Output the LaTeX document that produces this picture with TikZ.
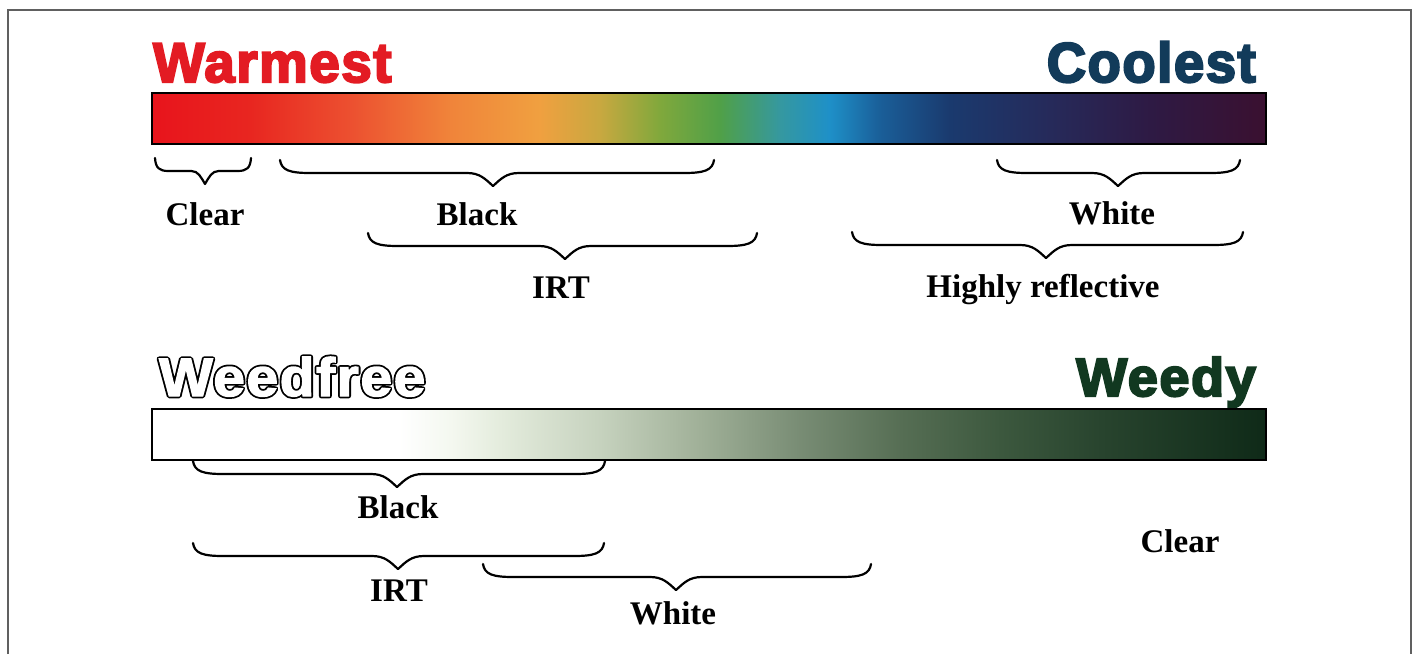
\documentclass[tikz,border=0pt]{standalone}
\usepackage{fontspec}
\setmainfont{Liberation Serif}
\newfontfamily\heavyfont{Liberation Sans Bold}[FakeBold=4, LetterSpace=3]
\newfontfamily\heavyinfont{Liberation Sans Bold}[FakeBold=2.5, LetterSpace=3]
\newfontfamily\heavyoutfont{Liberation Sans Bold}[FakeBold=9, LetterSpace=3]
\definecolor{warmred}{HTML}{E31B23}
\definecolor{coolnavy}{HTML}{123B5A}
\definecolor{weedygreen}{HTML}{113820}
\definecolor{framegray}{HTML}{606060}
% spectrum stops
\definecolor{s0}{HTML}{E8141C}
\definecolor{s1}{HTML}{E82620}
\definecolor{s2}{HTML}{EC5030}
\definecolor{s3}{HTML}{F0843A}
\definecolor{s4}{HTML}{F0A040}
\definecolor{s5}{HTML}{C8A840}
\definecolor{s6}{HTML}{80A83C}
\definecolor{s7}{HTML}{50A048}
\definecolor{s8}{HTML}{3598A0}
\definecolor{s9}{HTML}{1E90C8}
\definecolor{s10}{HTML}{1A5E98}
\definecolor{s11}{HTML}{1A3A6E}
\definecolor{s12}{HTML}{262A5A}
\definecolor{s13}{HTML}{2E1A44}
\definecolor{s14}{HTML}{3A1030}
\pgfdeclarehorizontalshading{spectrum}{100bp}{color(0bp)=(s0); color(25bp)=(s0); color(29.4bp)=(s1); color(33.9bp)=(s2); color(38.4bp)=(s3); color(42.4bp)=(s4); color(45.1bp)=(s5); color(47.8bp)=(s6); color(50.5bp)=(s7); color(53.2bp)=(s8); color(55.4bp)=(s9); color(57.7bp)=(s10); color(60.8bp)=(s11); color(65.3bp)=(s12); color(69.8bp)=(s13); color(75bp)=(s14); color(100bp)=(s14)}
% weed stops
\definecolor{w0}{HTML}{FFFFFF}
\definecolor{w1}{HTML}{F4F8F0}
\definecolor{w2}{HTML}{E4ECDD}
\definecolor{w3}{HTML}{C6D2BE}
\definecolor{w4}{HTML}{A0B098}
\definecolor{w5}{HTML}{788C74}
\definecolor{w6}{HTML}{566E54}
\definecolor{w7}{HTML}{3C583E}
\definecolor{w8}{HTML}{28442E}
\definecolor{w9}{HTML}{0F2A18}
\pgfdeclarehorizontalshading{weedshade}{100bp}{color(0bp)=(w0); color(25bp)=(w0); color(36.1bp)=(w0); color(38.4bp)=(w1); color(40.6bp)=(w2); color(45.1bp)=(w3); color(49.6bp)=(w4); color(54.1bp)=(w5); color(58.6bp)=(w6); color(63.1bp)=(w7); color(67.6bp)=(w8); color(75bp)=(w9); color(100bp)=(w9)}
\tikzset{
  barbox/.style={draw=black, line width=2.5pt, inner sep=0pt, minimum width=1114pt, minimum height=51pt},
  bracestyle/.style={draw=black, line width=2.2pt, line cap=round, line join=round},
  lbl/.style={font=\fontsize{33}{36}\selectfont\bfseries, anchor=base, inner sep=0pt},
  bigword/.style={inner sep=0pt, font=\heavyfont\fontsize{56}{60}\selectfont},
  weedword/.style={inner sep=0pt, font=\heavyfont\fontsize{54}{58}\selectfont},
}
\newcommand{\mybrace}[4]{% x1, xtip, x2, ytop
  \pgfmathsetmacro{\BrW}{#3-#1}%
  \pgfmathsetmacro{\BrA}{min(30,\BrW/7)}%
  \pgfmathsetmacro{\BrB}{min(26,\BrW/7)}%
  \pgfmathsetmacro{\BrL}{#4+13}%
  \pgfmathsetmacro{\BrT}{#4+26}%
  \draw[bracestyle] (#1,#4)
    .. controls ({#1+0.05*\BrA},{#4+10}) and ({#1+0.3*\BrA},\BrL) .. ({#1+\BrA},\BrL)
    -- ({#2-\BrB},\BrL)
    .. controls ({#2-0.5*\BrB},\BrL) and ({#2-0.3*\BrB},{\BrL+6}) .. (#2,\BrT)
    .. controls ({#2+0.3*\BrB},{\BrL+6}) and ({#2+0.5*\BrB},\BrL) .. ({#2+\BrB},\BrL)
    -- ({#3-\BrA},\BrL)
    .. controls ({#3-0.3*\BrA},\BrL) and ({#3-0.05*\BrA},{#4+10}) .. (#3,#4);
}
\begin{document}
\begin{tikzpicture}[x=1pt,y=-1pt]
\useasboundingbox (0,0) rectangle (1416,654);
% frame
\draw[framegray, line width=1.5pt] (8,654) -- (8,10) -- (1411,10) -- (1411,654);

% top scale
\node[bigword, text=warmred, anchor=base west] (warmest) at (153,82) {\scalebox{0.975}[1]{Warmest}};
\node[bigword, text=coolnavy, anchor=base east] (coolest) at (1256,82) {\scalebox{0.97}[1]{Coolest}};
\node[barbox, shade, shading=spectrum] (tempbar) at (709,118.5) {};

\mybrace{155}{205}{251}{158}
\mybrace{280}{493}{714}{160}
\mybrace{997}{1118}{1240}{160}
\mybrace{368}{565}{757}{233}
\mybrace{852}{1046}{1243}{232}

\node[lbl] (clearT) at (205,225) {Clear};
\node[lbl] (blackT) at (477,225) {Black};
\node[lbl] (whiteT) at (1112,224) {White};
\node[lbl] (irtT) at (561,298) {IRT};
\node[lbl] (hrT) at (1043,297) {Highly reflective};

% bottom scale
\node[weedword, font=\heavyoutfont\fontsize{54}{58}\selectfont, text=black, anchor=base west] (weedfreeedge) at (159,396) {\special{pdf:literal direct 1 j}\scalebox{1.05}[1]{Weedfree}};
\node[weedword, font=\heavyinfont\fontsize{54}{58}\selectfont, text=white, anchor=base west] (weedfree) at (159,396) {\scalebox{1.05}[1]{Weedfree}};
\node[weedword, text=weedygreen, anchor=base east] (weedy) at (1256,396) {Weedy};
\node[barbox, shade, shading=weedshade] (weedbar) at (709,434.5) {};

\mybrace{193}{397}{605}{461}
\mybrace{193}{398}{604}{543}
\mybrace{483}{676}{871}{564}

\node[lbl] (blackB) at (398,518) {Black};
\node[lbl] (irtB) at (399,601) {IRT};
\node[lbl] (whiteB) at (673,624) {White};
\node[lbl] (clearB) at (1180,552) {Clear};
\end{tikzpicture}
\end{document}
